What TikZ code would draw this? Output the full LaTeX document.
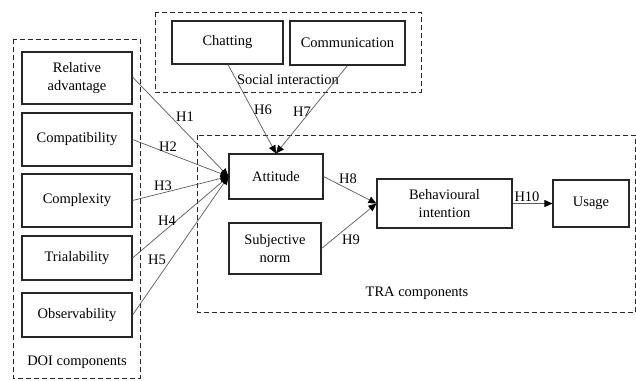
\documentclass[tikz,border=0pt]{standalone}
\usepackage{fontspec}
\setmainfont{Liberation Serif}
\usetikzlibrary{arrows.meta}
\begin{document}
\begin{tikzpicture}[x=1pt,y=-1pt,
  box/.style={draw=black!85,line width=1.1pt,inner sep=1pt,align=center,font=\fontsize{14.5}{17.5}\selectfont},
  grp/.style={draw=black!85,line width=1pt,dash pattern=on 5pt off 3pt},
  lbl/.style={font=\fontsize{14.5}{17}\selectfont,inner sep=0pt},
  conn/.style={draw=black!65,line width=0.7pt,-{Triangle[length=8pt,width=7pt,color=black,fill=black]}}]
\useasboundingbox (0,0) rectangle (636,380);
% group boxes
\draw[grp] (13,39) rectangle (140,378);
\draw[grp] (155,12) rectangle (421,92);
\draw[grp] (197,135) rectangle (635.5,312);
\node[lbl] (doil) at (77,362) {DOI components};
\node[lbl] (sil) at (288,80) {Social interaction};
\node[lbl] (tral) at (417,293) {TRA components};
% DOI boxes
\node[box,minimum width=110pt,minimum height=52pt] (ra) at (77,78) {Relative\\advantage};
\node[box,minimum width=110pt,minimum height=53pt] (cp) at (77,139.5) {Compatibility};
\node[box,minimum width=110pt,minimum height=53pt] (cx) at (77,200.5) {Complexity};
\node[box,minimum width=110pt,minimum height=44pt] (tr) at (77,258) {Trialability};
\node[box,minimum width=110pt,minimum height=44pt] (ob) at (77,315) {Observability};
% social
\node[box,minimum width=111pt,minimum height=43pt] (ch) at (227.5,42.5) {Chatting};
\node[box,minimum width=115pt,minimum height=44pt] (cm) at (347.5,43) {Communication};
% TRA
\node[box,minimum width=94pt,minimum height=45pt] (at) at (276,176.5) {Attitude};
\node[box,minimum width=92pt,minimum height=51pt] (sn) at (275,248.5) {Subjective\\norm};
\node[box,minimum width=135pt,minimum height=49pt] (bi) at (444.5,203.5) {Behavioural\\intention};
\node[box,minimum width=76pt,minimum height=47pt] (us) at (591,203.5) {Usage};
% connectors
\draw[conn] (ra.east |- 0,77) -- (at.west);
\draw[conn] (cp.east) -- (at.west);
\draw[conn] (cx.east) -- (at.west);
\draw[conn] (tr.east) -- (at.west);
\draw[conn] (ob.east) -- (at.west);
\draw[conn] (ch.south -| 228,0) -- (at.north);
\draw[conn] (cm.south) -- (at.north);
\draw[conn] (at.east) -- (bi.west);
\draw[conn] (sn.east) -- (bi.west);
\draw[conn] (bi.east) -- (us.west);
% labels
\node[lbl] at (185,117) {H1};
\node[lbl] at (168,147) {H2};
\node[lbl] at (163,186) {H3};
\node[lbl] at (167,221) {H4};
\node[lbl] at (157,260) {H5};
\node[lbl] at (263,110) {H6};
\node[lbl] at (302,112) {H7};
\node[lbl] at (348,179) {H8};
\node[lbl] at (351,240) {H9};
\node[lbl] at (527,197) {H10};
\end{tikzpicture}
\end{document}
